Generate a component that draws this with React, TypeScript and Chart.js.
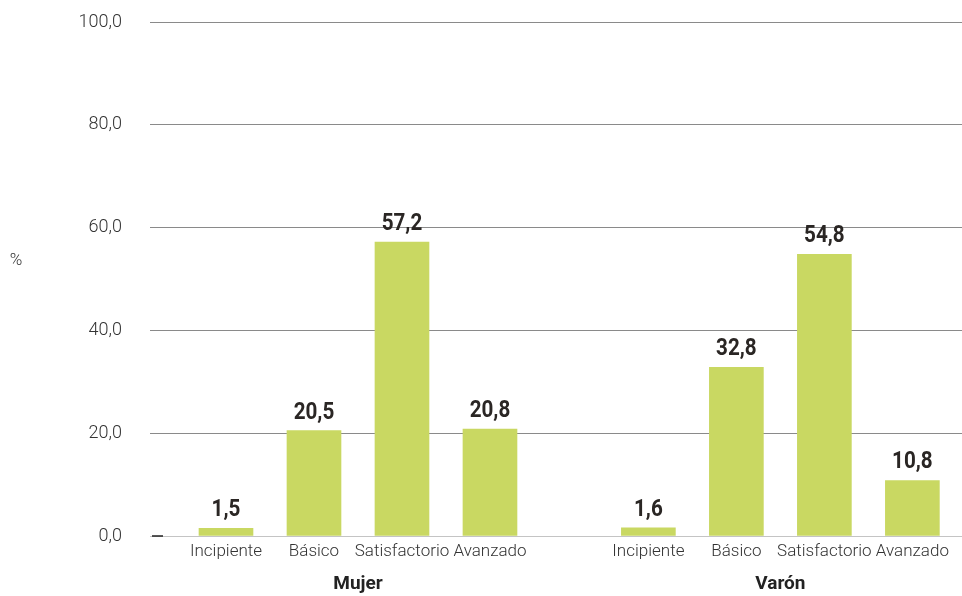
import React, { useEffect, useRef } from "react";
import { Chart, registerables } from "chart.js";

Chart.register(...registerables);

const groups = ["Mujer", "Varón"];
const levels = ["Incipiente", "Básico", "Satisfactorio", "Avanzado"];
const mujerValues = [1.5, 20.5, 57.2, 20.8];
const varonValues = [1.6, 32.8, 54.8, 10.8];
const yTicks = [0, 20, 40, 60, 80, 100];

const GROUP_OFFSET = 4.8;
const BAR_COLOR = "#c9d862";
const fmt = (v: number) => v.toFixed(1).replace(".", ",");

export default function App() {
  const ref = useRef<HTMLCanvasElement | null>(null);

  useEffect(() => {
    if (!ref.current) return;
    const series = [mujerValues, varonValues];
    const points: { x: number; y: number }[] = [];
    const tickPos: number[] = [];
    const tickLab: string[] = [];
    series.forEach((vals, g) => {
      vals.forEach((v, i) => {
        const x = g * GROUP_OFFSET + i;
        points.push({ x, y: v });
        tickPos.push(x);
        tickLab.push(levels[i]);
      });
    });

    const overlay = {
      id: "overlay",
      afterDatasetsDraw(chart: any) {
        const ctx = chart.ctx;
        const xs = chart.scales.x;
        const ys = chart.scales.y;
        const meta = chart.getDatasetMeta(0);
        ctx.save();
        // value labels
        ctx.fillStyle = "#2a2624";
        ctx.font = "bold 24px Roboto";
        ctx.textAlign = "center";
        ctx.textBaseline = "alphabetic";
        meta.data.forEach((bar: any, i: number) => {
          const v = points[i].y;
          ctx.save();
          ctx.translate(bar.x, bar.y - 12);
          ctx.scale(0.86, 1);
          ctx.fillText(fmt(v), 0, 0);
          ctx.restore();
        });
        // group labels
        ctx.font = "bold 19px Roboto";
        ctx.fillStyle = "#222";
        ctx.textBaseline = "middle";
        groups.forEach((g, gi) => {
          const center = gi * GROUP_OFFSET + (levels.length - 1) / 2;
          ctx.fillText(g, xs.getPixelForValue(center), 584);
        });
        // % label
        ctx.font = "300 17px Roboto";
        ctx.fillStyle = "#333";
        ctx.fillText("%", 16, 261);
        // small dash at zero
        const y0 = ys.getPixelForValue(0);
        ctx.strokeStyle = "#222";
        ctx.lineWidth = 1.5;
        ctx.beginPath();
        ctx.moveTo(152, y0);
        ctx.lineTo(163, y0);
        ctx.stroke();
        ctx.restore();
      },
    };

    const chart = new Chart(ref.current, {
      type: "bar",
      data: {
        datasets: [
          {
            data: points,
            backgroundColor: BAR_COLOR,
            barThickness: 54,
          },
        ],
      },
      options: {
        animation: false,
        responsive: true,
        maintainAspectRatio: false,
        layout: { padding: { top: 22, right: 0, bottom: 0, left: 0 } },
        plugins: { legend: { display: false }, tooltip: { enabled: false } },
        scales: {
          x: {
            type: "linear",
            offset: false,
            min: -0.8636,
            max: 8.364,
            grid: { display: false, drawTicks: false },
            border: { display: false },
            afterBuildTicks: (scale: any) => {
              scale.ticks = tickPos.map((v) => ({ value: v }));
            },
            afterFit: (scale: any) => {
              scale.height = 60;
              scale.paddingLeft = 0;
              scale.paddingRight = 0;
            },
            ticks: {
              autoSkip: false,
              maxRotation: 0,
              padding: 6,
              color: "#333",
              font: { family: "Roboto", size: 17, weight: "300" },
              callback: (value: any) => {
                const idx = tickPos.indexOf(Number(value));
                return idx >= 0 ? tickLab[idx] : "";
              },
            },
          },
          y: {
            min: 0,
            max: 100,
            afterBuildTicks: (scale: any) => {
              scale.ticks = yTicks.map((v) => ({ value: v }));
            },
            afterFit: (scale: any) => {
              scale.width = 150;
              scale.paddingTop = 0;
              scale.paddingBottom = 0;
            },
            grid: {
              drawTicks: false,
              color: (c: any) => (c.tick && c.tick.value === 0 ? "#c4c4c4" : "#8a8a8a"),
              lineWidth: 1,
            },
            border: { display: false },
            ticks: {
              padding: 28,
              color: "#333",
              font: { family: "Roboto", size: 18, weight: "300" },
              callback: (value: any) => fmt(Number(value)),
            },
          },
        },
      },
      plugins: [overlay],
    } as any);

    return () => chart.destroy();
  }, []);

  return (
    <div style={{ position: "absolute", left: 0, top: 0, width: 962, height: 596, background: "#fff" }}>
      <canvas ref={ref} />
    </div>
  );
}
